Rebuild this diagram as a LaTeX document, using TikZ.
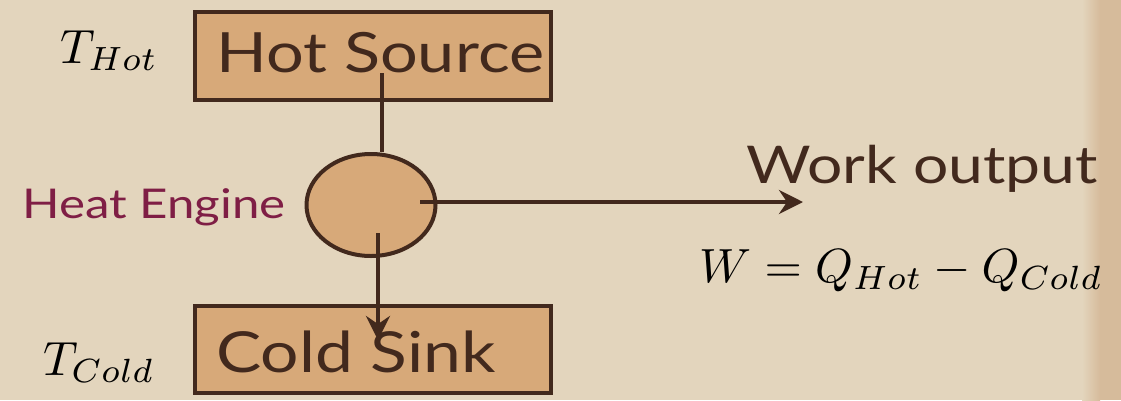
\documentclass[tikz,border=0pt]{standalone}
\usepackage{graphicx}
\usepackage{fontspec}
\newfontfamily\handfont[FakeStretch=1.2]{Lato}
\usetikzlibrary{shapes.geometric,arrows.meta,calc}

\definecolor{parch}{HTML}{E3D5BD}
\definecolor{stain}{HTML}{D6BB9B}
\definecolor{boxtan}{HTML}{D7A979}
\definecolor{ink}{HTML}{42291D}
\definecolor{enginered}{HTML}{7F1E45}

% math labels set at 10pt and enlarged
\newcommand{\bigmath}[1]{\scalebox{4.8}{$#1$}}

\tikzset{
  box/.style={draw=ink, fill=boxtan, line width=4pt, minimum width=356pt,
              minimum height=88pt, inner sep=0pt},
  engine/.style={ellipse, draw=ink, fill=boxtan, line width=4pt,
                 minimum width=129pt, minimum height=102pt, inner sep=0pt},
  hand/.style={inner sep=0pt, text=ink, font=\handfont\fontsize{52}{60}\selectfont},
  mathlbl/.style={inner sep=0pt, text=black},
  wire/.style={draw=ink, line width=4pt},
  flow/.style={wire, -{Stealth[length=24pt,width=24pt,inset=8pt]}}
}

\begin{document}
\begin{tikzpicture}[x=1pt,y=-1pt]
  \useasboundingbox (0,0) rectangle (1121,400);
  % parchment backdrop with a darker edge on the right
  \fill[parch] (0,0) rectangle (1121,400);
  \shade[left color=parch, right color=stain] (1082,0) rectangle (1100,400);
  \fill[stain] (1100,0) rectangle (1121,400);

  % reservoirs and engine
  \node[box] (hot) at (373,56) {};
  \node[box, minimum height=87pt] (cold) at (373,349.5) {};
  \node[engine] (eng) at (371,205) {};

  % labels
  \node[hand, anchor=base west, font=\handfont\fontsize{55.5}{62}\selectfont]
       (hotlbl) at (216,72) {Hot Source};
  \node[hand, anchor=base west, font=\handfont\fontsize{56.5}{62}\selectfont]
       (coldlbl) at (216,372) {Cold Sink};
  \node[hand, anchor=base west, text=enginered, font=\handfont\fontsize{41}{48}\selectfont]
       (englbl) at (22,218) {Heat Engine};
  \node[hand, anchor=base west] (worklbl) at (746,183) {Work output};
  \node[mathlbl, anchor=base west] (thot) at (60,63) {\bigmath{T_{Hot}}};
  \node[mathlbl, anchor=base west] (tcold) at (43,375) {\bigmath{T_{Cold}}};
  \node[mathlbl, anchor=base west] (weq) at (699,282) {\bigmath{W=Q_{Hot}-Q_{Cold}}};

  % heat and work flows
  \coordinate (hs) at ($(hot.center)+(9,17)$);
  \coordinate (eb) at ($(eng.center)+(7,28)$);
  \coordinate (ec) at ($(eng.center)+(49,-3)$);
  \coordinate (wout) at (803,202);
  \draw[wire] (hs) -- (hs |- eng.north);
  \draw[flow] (eb) -- ($(eb |- cold.north)+(0,36)$);
  \draw[flow] (ec) -- (wout);
\end{tikzpicture}
\end{document}
